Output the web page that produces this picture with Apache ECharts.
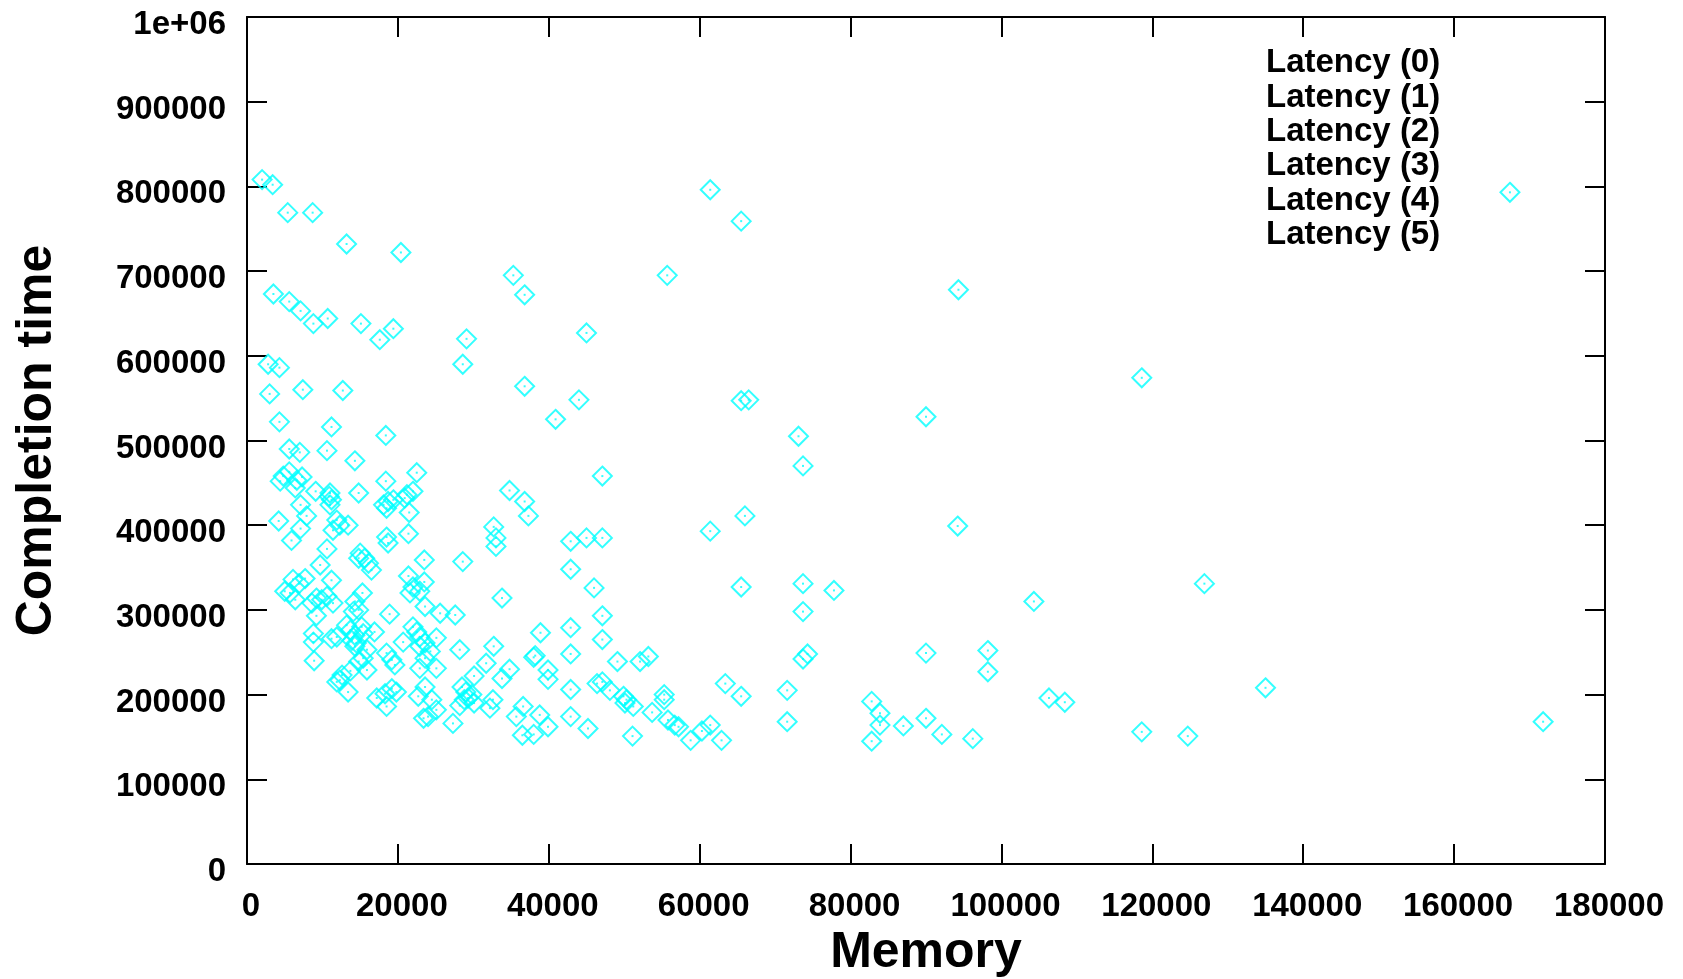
<!DOCTYPE html>
<html>
<head>
<meta charset="utf-8">
<title>Completion time vs Memory</title>
<script src="https://cdn.jsdelivr.net/npm/echarts@6/dist/echarts.min.js"></script>
<style>
  html, body { margin: 0; padding: 0; background: #ffffff; }
  #chart { width: 1683px; height: 979px; }
</style>
</head>
<body>
<div id="chart"></div>
<script>
// series names as they appear in the key; only the last one has points
const seriesNames = ['Latency (0)', 'Latency (1)', 'Latency (2)', 'Latency (3)', 'Latency (4)', 'Latency (5)']

// Latency (5): memory used vs completion time
const memory = [
  2000, 3400, 5400, 8700, 13200, 20400, 61400, 65500, 35300, 55700,
  36800, 3500, 5600, 7100, 8800, 10700, 15100, 17600, 19400, 29100,
  45000, 2800, 4300, 28600, 3000, 7400, 12700, 36800, 44000, 40900,
  65500, 66500, 4300, 11200, 18400, 73100, 94300, 118600, 167400, 90000,
  73700, 66000, 61400, 94200, 65500, 73700, 77800, 73700, 73700, 74300,
  90000, 98200, 98200, 63400, 65500, 71600, 71600, 82800, 83900, 83900,
  82800, 87000, 90000, 92100, 96200, 61400, 60300, 58800, 62900, 104300,
  126900, 106300, 108400, 135000, 118600, 124700, 171800, 47100, 34800, 36800,
  37300, 32700, 33000, 33000, 42900, 45000, 47100, 28600, 42900, 46000,
  33800, 47100, 38900, 42900, 47100, 32700, 38000, 38200, 42900, 49100,
  52100, 53200, 31700, 34800, 30100, 33800, 39900, 39900, 42900, 46400,
  47100, 48100, 49900, 50300, 50100, 51200, 55300, 55300, 53700, 55800,
  56700, 57200, 51100, 45200, 42900, 38800, 36600, 35700, 36500, 38000,
  39900, 32200, 32600, 28500, 29000, 29300, 28800, 29800, 28200, 30100,
  5600, 7000, 10600, 14300, 4400, 4800, 5600, 6600, 7300, 6400,
  9100, 11000, 11200, 11000, 10900, 14800, 18400, 22500, 22000, 20900,
  21200, 18100, 18700, 19400, 18500, 21500, 7100, 7900, 4200, 7100,
  5900, 11900, 12300, 13400, 11400, 18500, 18700, 21400, 10600, 9700,
  15000, 15600, 16100, 16500, 14800, 23500, 21400, 22000, 21600, 23500,
  22900, 23600, 11200, 6100, 7700, 5700, 6400, 6900, 5000, 9200,
  9900, 10600, 11400, 8600, 15300, 14300, 14800, 14100, 18900, 25600,
  27600, 9200, 8800, 8800, 8900, 11200, 11900, 13200, 13700, 14300,
  13900, 14500, 15200, 15400, 14300, 16900, 15900, 15400, 14800, 15900,
  13700, 12600, 11900, 13400, 12300, 18500, 19200, 19600, 20700, 22000,
  22500, 22900, 23600, 22900, 24300, 23600, 22900, 25100, 25100, 28200,
  17200, 18300, 19200, 19800, 18500, 23600, 22700, 24500, 25100, 23400,
  24000, 27300
]
const completionTime = [
  808000, 802000, 769000, 769000, 732000, 722000, 796000, 759000, 695000, 695000,
  672000, 673000, 664000, 653000, 638000, 644000, 638000, 619000, 632000, 620000,
  627000, 590000, 586000, 590000, 555000, 560000, 559000, 564000, 548000, 525000,
  547000, 548000, 522000, 516000, 506000, 505000, 678000, 574000, 793000, 528000,
  470000, 411000, 393000, 399000, 327000, 331000, 323000, 298000, 242000, 248000,
  249000, 252000, 227000, 213000, 198000, 205000, 168000, 192000, 178000, 164000,
  145000, 163000, 172000, 153000, 148000, 164000, 157000, 146000, 146000, 310000,
  331000, 196000, 191000, 208000, 156000, 151000, 168000, 458000, 441000, 428000,
  411000, 398000, 385000, 375000, 381000, 385000, 385000, 357000, 348000, 326000,
  314000, 293000, 273000, 279000, 265000, 257000, 244000, 246000, 248000, 239000,
  239000, 245000, 237000, 230000, 222000, 219000, 229000, 218000, 206000, 213000,
  215000, 205000, 198000, 194000, 190000, 186000, 200000, 194000, 179000, 170000,
  164000, 162000, 151000, 160000, 174000, 176000, 186000, 174000, 152000, 153000,
  162000, 184000, 194000, 209000, 203000, 196000, 194000, 200000, 187000, 190000,
  490000, 486000, 488000, 476000, 452000, 458000, 463000, 453000, 457000, 444000,
  440000, 438000, 430000, 424000, 434000, 438000, 452000, 462000, 440000, 432000,
  436000, 424000, 428000, 430000, 420000, 415000, 424000, 411000, 405000, 396000,
  382000, 406000, 400000, 400000, 394000, 386000, 379000, 390000, 372000, 353000,
  367000, 361000, 355000, 347000, 361000, 359000, 340000, 327000, 320000, 333000,
  322000, 304000, 335000, 336000, 337000, 320000, 312000, 331000, 322000, 314000,
  312000, 316000, 308000, 308000, 320000, 310000, 300000, 298000, 295000, 296000,
  294000, 293000, 272000, 262000, 240000, 266000, 268000, 282000, 276000, 270000,
  264000, 261000, 280000, 272000, 257000, 274000, 253000, 243000, 239000, 229000,
  228000, 223000, 215000, 203000, 217000, 249000, 241000, 235000, 262000, 280000,
  274000, 268000, 261000, 257000, 251000, 243000, 231000, 267000, 231000, 253000,
  196000, 201000, 207000, 203000, 186000, 209000, 198000, 194000, 182000, 172000,
  174000, 166000
]

const xMax = 180000
const xStep = 20000
const yMax = 1000000
const yStep = 100000

const points = memory.map((m, i) => [m, completionTime[i]])

const font = '"Liberation Sans", Arial, Helvetica, sans-serif'
const cyan = '#00ffff'

const chart = echarts.init(document.getElementById('chart'))

// box round the plot: every side has its own axis with inward ticks
const frameAxis = {
  axisLine: { show: true, onZero: false, lineStyle: { color: '#000', width: 2 } },
  axisTick: { show: true, inside: true, length: 20, lineStyle: { color: '#000', width: 2 } },
  splitLine: { show: false }
}

const tickText = {
  color: '#000',
  fontFamily: font,
  fontWeight: 'bold',
  fontSize: 33
}

const titleText = { color: '#000', fontFamily: font, fontWeight: 'bold', fontSize: 50 }

const emptySeries = seriesNames.slice(0, 5).map(name => ({
  name: name,
  type: 'scatter',
  data: []
}))

chart.setOption({
  animation: false,
  backgroundColor: '#ffffff',
  grid: {
    left: 247,
    right: 78,
    top: 17,
    bottom: 115,
    // keep the box where it is, don't squeeze it to fit the axis names
    outerBoundsMode: 'none',
    containLabel: false
  },
  legend: {
    data: seriesNames,
    orient: 'vertical',
    left: 1231,
    top: 41,
    icon: 'none',
    itemWidth: 25,
    itemHeight: 14,
    itemGap: 0,
    selectedMode: false,
    textStyle: {
      color: '#000',
      fontFamily: font,
      fontWeight: 'bold',
      fontSize: 33,
      lineHeight: 34.4
    }
  },
  xAxis: [{
    type: 'value',
    position: 'bottom',
    min: 0,
    max: xMax,
    interval: xStep,
    name: 'Memory',
    nameLocation: 'middle',
    nameGap: 64,
    nameTextStyle: titleText,
    ...frameAxis,
    axisLabel: {
      margin: 26,
      formatter: v => '{t|' + v + '}',
      rich: { t: { ...tickText, padding: [0, 0, 0, 8] } }
    }
  }, {
    type: 'value',
    position: 'top',
    min: 0,
    max: xMax,
    interval: xStep,
    ...frameAxis,
    axisLabel: { show: false }
  }],
  yAxis: [{
    type: 'value',
    position: 'left',
    min: 0,
    max: yMax,
    interval: yStep,
    name: 'Completion time',
    nameLocation: 'middle',
    nameGap: 185,
    nameTextStyle: titleText,
    ...frameAxis,
    axisLabel: {
      margin: 21,
      formatter: v => '{t|' + (v === 1000000 ? '1e+06' : v) + '}',
      rich: { t: { ...tickText, padding: [16, 0, 0, 0] } }
    }
  }, {
    type: 'value',
    position: 'right',
    min: 0,
    max: yMax,
    interval: yStep,
    ...frameAxis,
    axisLabel: { show: false }
  }],
  series: emptySeries.concat([{
    name: 'Latency (5)',
    type: 'scatter',
    data: points,
    symbol: 'diamond',
    symbolSize: 19,
    itemStyle: {
      color: 'rgba(0,0,0,0)',
      borderColor: cyan,
      borderWidth: 2
    }
  }, {
    // the tiny dot in the middle of each diamond
    name: 'Latency (5)',
    type: 'scatter',
    data: points,
    symbol: 'rect',
    symbolSize: 2,
    itemStyle: { color: cyan }
  }])
})
</script>
</body>
</html>
